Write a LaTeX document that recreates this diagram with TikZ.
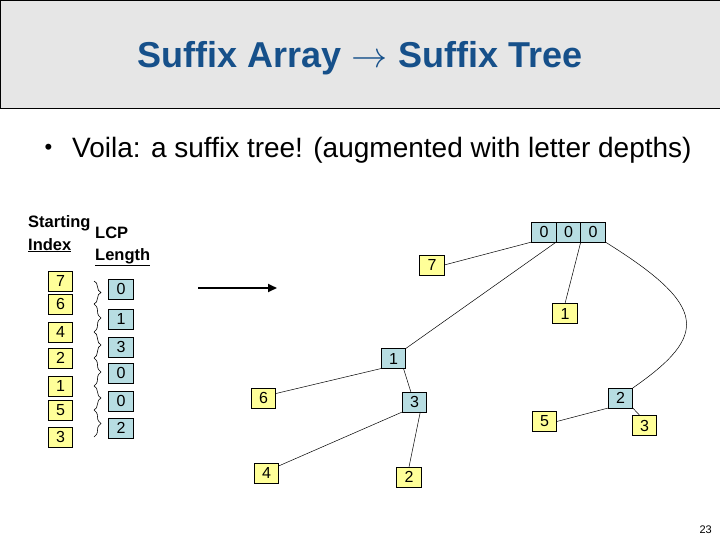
\documentclass[tikz,border=0pt]{standalone}
\usepackage{fontspec}
\setmainfont{Liberation Sans}
\usetikzlibrary{arrows.meta,positioning,decorations.pathreplacing}
\definecolor{titleblue}{RGB}{22,80,138}
\definecolor{sayellow}{RGB}{255,255,153}
\definecolor{lcpblue}{RGB}{183,221,226}
\definecolor{bargray}{RGB}{230,230,230}

\begin{document}
\begin{tikzpicture}[
  x=1pt, y=-1pt,
  font=\fontsize{16}{18}\selectfont,
  cell/.style={draw, line width=0.6pt, inner sep=0pt, outer sep=0pt, minimum width=24.5pt, minimum height=20pt},
  leaf/.style={cell, fill=sayellow},
  lcpbox/.style={cell, fill=lcpblue},
  hd/.style={anchor=base west, inner sep=0pt, font=\fontsize{16.5}{18}\selectfont\bfseries},
  tl/.style={line width=0.5pt},
  brc/.style={decorate, decoration={brace, amplitude=7pt}, line width=0.6pt},
  ar/.style={-{Triangle[length=9pt, width=8pt]}, line width=1.8pt}]
\useasboundingbox (0,0) rectangle (720,540);
\fill[white] (0,0) rectangle (720,540);
\draw[fill=bargray, line width=1.2pt] (0.6,0.6) rectangle (724,108.5);
\node[anchor=base, inner sep=0pt, text=titleblue, font=\fontsize{36}{40}\selectfont\bfseries] (title) at (360,68)
  {Suffix Array \scalebox{1.45}{$\rightarrow$} Suffix Tree};
\node[inner sep=0pt, font=\fontsize{22}{24}\selectfont] (bul) at (48.5,149) {\textbullet};
\node[anchor=base west, inner sep=0pt, font=\fontsize{28}{32}\selectfont] (pt) at (72,158)
  {Voila: a suffix tree! (augmented with letter depths)};
\node[hd] (hs) at (28,228) {Starting};
\node[hd] (hi) at (28,250) {\underline{Index}};
\node[hd] (hl) at (95,238) {LCP};
\node[hd] (hn) at (95,260) {\underline{Length}};
\foreach \v/\y [count=\k] in {7/281,6/304,4/332,2/358,1/386,5/410,3/437}
  \node[leaf] (i\k) at (60.5,\y) {\v};
\foreach \v/\y [count=\k] in {0/289,1/319,3/347,0/373,0/401,2/428}
  \node[lcpbox] (c\k) at (121,\y) {\v};
\coordinate (bx) at (94,0);
\foreach \a [evaluate=\a as \b using int(\a+1)] in {1,...,6}
  \draw[brc] (i\a.center -| bx) -- (i\b.center -| bx);
\coordinate (arrS) at (198,288);
\coordinate (arrE) at (277,288);
\draw[ar] (arrS) -- (arrE);
\node[lcpbox] (ra) at (544,232) {0};
\node[lcpbox, right=0pt of ra] (rb) {0};
\node[lcpbox, right=0pt of rb] (rc) {0};
\node[leaf] (l7) at (432,265) {7};
\node[leaf] (l1) at (565,313.5) {1};
\node[lcpbox] (n1) at (393.5,358.5) {1};
\node[leaf] (l6) at (263.5,398) {6};
\node[lcpbox] (n3) at (414.5,402) {3};
\node[leaf] (l4) at (266.5,473) {4};
\node[leaf] (l2) at (409,477) {2};
\node[lcpbox] (n2) at (620.5,398) {2};
\node[leaf] (l5) at (544.5,421.5) {5};
\node[leaf] (l3) at (644.5,425.5) {3};
\draw[tl] (l7.east) -- (ra.south west);
\draw[tl] (rb.south west) -- (n1.north east);
\draw[tl] (rc.south west) -- (l1.north);
\draw[tl] (rc.south east) .. controls (708,306) and (709,335) .. (n2.north east);
\draw[tl] (n1.south west) -- (l6.20);
\draw[tl] (n1.-45) -- (n3.110);
\draw[tl] (n3.south west) -- (l4.30);
\draw[tl] (n3.-60) -- (l2.north);
\draw[tl] (n2.south west) -- (l5.east);
\draw[tl] (n2.south east) -- (l3.115);
\node[anchor=base east, inner sep=0pt, font=\fontsize{11}{12}\selectfont] (pg) at (712,533) {23};
\end{tikzpicture}
\end{document}
